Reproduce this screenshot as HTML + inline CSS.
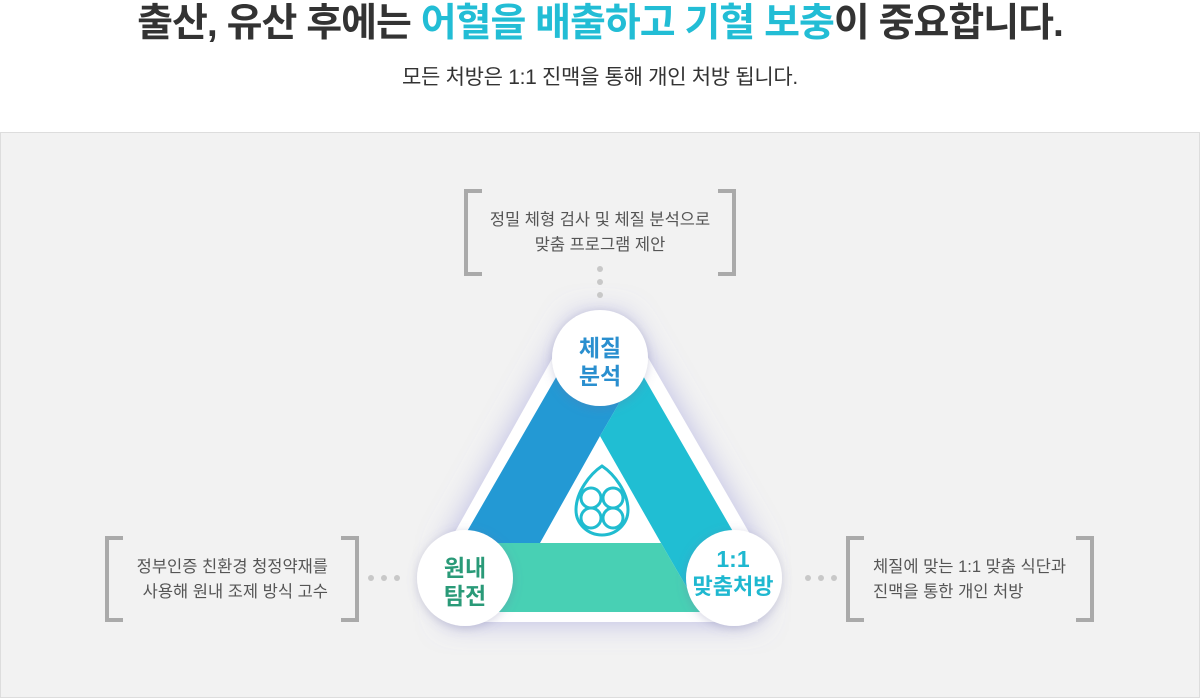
<!DOCTYPE html>
<html><head><meta charset="utf-8"><style>
html,body{margin:0;padding:0;width:1200px;height:698px;overflow:hidden;background:#fff;font-family:"Liberation Sans","Noto Sans CJK KR",sans-serif;}
.t{position:absolute;left:0;width:1200px;text-align:center;white-space:nowrap;}
</style></head><body>
<div class="t" style="top:1px;font-size:39px;font-weight:bold;color:#333;line-height:46px;letter-spacing:-1px">출산, 유산 후에는 <span style="color:#22bdd5">어혈을 배출하고 기혈 보충</span>이 중요합니다.</div>
<div class="t" style="top:63px;font-size:21px;color:#333;line-height:30px;letter-spacing:-0.3px">모든 처방은 1:1 진맥을 통해 개인 처방 됩니다.</div>
<div style="position:absolute;left:0;top:132px;width:1198px;height:564px;background:#f2f2f2;border:1px solid #ddd"></div>
<svg style="position:absolute;left:0;top:0" width="1200" height="698" font-family="Liberation Sans, Noto Sans CJK KR, sans-serif">
<defs>
<filter id="g" x="-30%" y="-30%" width="160%" height="160%"><feDropShadow dx="0" dy="0" stdDeviation="14" flood-color="#8c8cd8" flood-opacity="0.55"/></filter>
<filter id="c" x="-30%" y="-30%" width="160%" height="160%"><feDropShadow dx="0" dy="2" stdDeviation="5" flood-color="#7070a0" flood-opacity="0.3"/></filter>
<clipPath id="ci"><polygon points="592,315 608,315 750,561 750,612 450,612 450,561"/></clipPath>
</defs>
<polygon points="576,316 624,316 758,548 758,622 446,622 446,548" fill="#fff" filter="url(#g)"/>
<g clip-path="url(#ci)">
<polygon points="600,300 459,543 540,543 600,436 640,367" fill="#2399d4"/>
<polygon points="640,367 781,612 701,612 661,543 600,436" fill="#20bed3"/>
<polygon points="459,543 419,612 701,612 661,543" fill="#48d0b4"/>
</g>
<g fill="none" stroke="#20bcd0" stroke-width="3">
<path d="M602,466 C590,474 576,492 576,510 C576,524 588,535 602,535 C616,535 628,524 628,510 C628,492 614,474 602,466 Z"/>
<circle cx="591" cy="498" r="10"/><circle cx="613" cy="498" r="10"/>
<circle cx="591" cy="518" r="10"/><circle cx="613" cy="518" r="10"/>
</g>
<g fill="#fff" filter="url(#c)">
<circle cx="600" cy="358" r="48"/>
<circle cx="465" cy="578" r="48"/>
<circle cx="734" cy="578" r="48"/>
</g>
<g font-weight="bold" font-size="23" text-anchor="middle">
<text x="600" y="356" fill="#2a8fcf">체질</text><text x="600" y="384" fill="#2a8fcf">분석</text>
<text x="465" y="576" fill="#2a9a78">원내</text><text x="465" y="604" fill="#2a9a78">탐전</text>
<text x="733" y="567" fill="#1fb8d0">1:1</text><text x="733" y="594" fill="#1fb8d0" font-size="22">맞춤처방</text>
</g>
<g fill="none" stroke="#aaa" stroke-width="4">
<polyline points="482,191 466,191 466,274 482,274"/><polyline points="718,191 734,191 734,274 718,274"/>
<polyline points="123,538 107,538 107,620 123,620"/><polyline points="341,538 357,538 357,620 341,620"/>
<polyline points="864,538 848,538 848,620 864,620"/><polyline points="1076,538 1092,538 1092,620 1076,620"/>
</g>
<g fill="#c8c8c8">
<circle cx="600" cy="269" r="3"/><circle cx="600" cy="282" r="3"/><circle cx="600" cy="295" r="3"/>
<circle cx="371" cy="578" r="3"/><circle cx="384" cy="578" r="3"/><circle cx="397" cy="578" r="3"/>
<circle cx="808" cy="578" r="3"/><circle cx="821" cy="578" r="3"/><circle cx="834" cy="578" r="3"/>
</g>
<g font-size="16.5" fill="#555">
<text x="600" y="225" text-anchor="middle">정밀 체형 검사 및 체질 분석으로</text>
<text x="600" y="250" text-anchor="middle">맞춤 프로그램 제안</text>
<text x="328" y="572" text-anchor="end">정부인증 친환경 청정약재를</text>
<text x="328" y="597" text-anchor="end">사용해 원내 조제 방식 고수</text>
<text x="873" y="572">체질에 맞는 1:1 맞춤 식단과</text>
<text x="873" y="597">진맥을 통한 개인 처방</text>
</g>
</svg>
</body></html>
